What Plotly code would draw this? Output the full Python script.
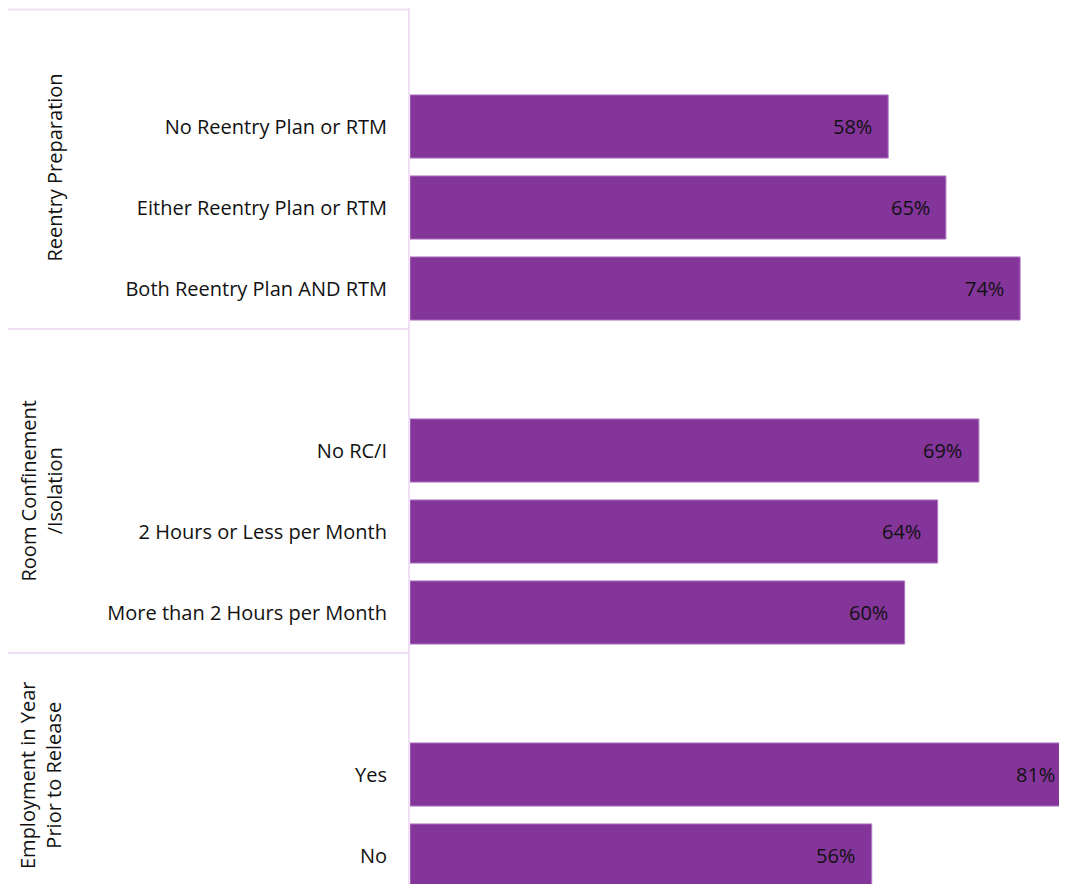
import plotly.graph_objects as go

# ---- data ----
group_names = ["Reentry Preparation", "Room Confinement<br>/Isolation", "Employment in Year<br>Prior to Release"]
group1_categories = ["No Reentry Plan or RTM", "Either Reentry Plan or RTM", "Both Reentry Plan AND RTM"]
group1_values = [58, 65, 74]
group2_categories = ["No RC/I", "2 Hours or Less per Month", "More than 2 Hours per Month"]
group2_values = [69, 64, 60]
group3_categories = ["Yes", "No"]
group3_values = [81, 56]

groups = [
    (group_names[0], group1_categories, group1_values),
    (group_names[1], group2_categories, group2_values),
    (group_names[2], group3_categories, group3_values),
]

BAR_COLOR = "#84359A"
LINE_COLOR = "#F0E0F6"
FONT = "Open Sans"
FSIZE = 20

W, H = 1051, 876          # page body adds an 8px margin
PLOT_LEFT = 402
PLOT_W = W - PLOT_LEFT
PX_PER_PCT = 8.245
X_MAX = PLOT_W / PX_PER_PCT
SLOT_PX = 81.0
Y_TOP = -0.5 + 3 / SLOT_PX
Y_BOTTOM = Y_TOP + H / SLOT_PX

# build slot positions: each group has one leading empty slot
ys, xs, labels = [], [], []
group_spans = []
slot = 0
for name, cats, vals in groups:
    start = slot - 0.5
    slot += 1  # blank slot
    for c, v in zip(cats, vals):
        ys.append(slot)
        xs.append(v)
        labels.append(c)
        slot += 1
    group_spans.append((name, start, slot - 0.5))

fig = go.Figure()
fig.add_trace(go.Bar(
    x=xs, y=ys, orientation="h",
    marker=dict(color=BAR_COLOR, line=dict(color="#B07CC4", width=1)),
    width=0.78,
    hoverinfo="skip",
))

# value labels
for x, y in zip(xs, ys):
    fig.add_annotation(
        x=min(x - 1.75, X_MAX - 0.2), y=y, xref="x", yref="y",
        text=f"{x}%", showarrow=False, xanchor="right", yanchor="middle",
        font=dict(family=FONT, size=FSIZE, color="#111111"),
    )

for name, y0, y1 in group_spans:
    yl = max(y0, Y_TOP + 1.5 / SLOT_PX)
    fig.add_shape(type="line", xref="paper", yref="y",
                  x0=-PLOT_LEFT / PLOT_W, x1=0, y0=yl, y1=yl,
                  line=dict(color=LINE_COLOR, width=2))
    fig.add_annotation(
        x=(61 - PLOT_LEFT) / PLOT_W, y=(y0 + y1) / 2, xref="paper", yref="y",
        text=name, textangle=-90, showarrow=False,
        xanchor="right", yanchor="middle", align="center",
        font=dict(family=FONT, size=FSIZE, color="#111111"),
    )

fig.update_layout(
    width=W, height=H,
    margin=dict(l=PLOT_LEFT, r=0, t=0, b=0, pad=0),
    paper_bgcolor="white", plot_bgcolor="white",
    showlegend=False,
    xaxis=dict(range=[0, X_MAX], showgrid=False, zeroline=False,
               showticklabels=False, showline=False),
    yaxis=dict(range=[Y_BOTTOM, Y_TOP], autorange=False,
               tickvals=ys, ticktext=labels, ticks="",
               ticklabelstandoff=17,
               tickfont=dict(family=FONT, size=FSIZE, color="#111111"),
               showgrid=False, zeroline=False,
               showline=True, linecolor=LINE_COLOR, linewidth=2),
)

fig.write_html("out.html")
